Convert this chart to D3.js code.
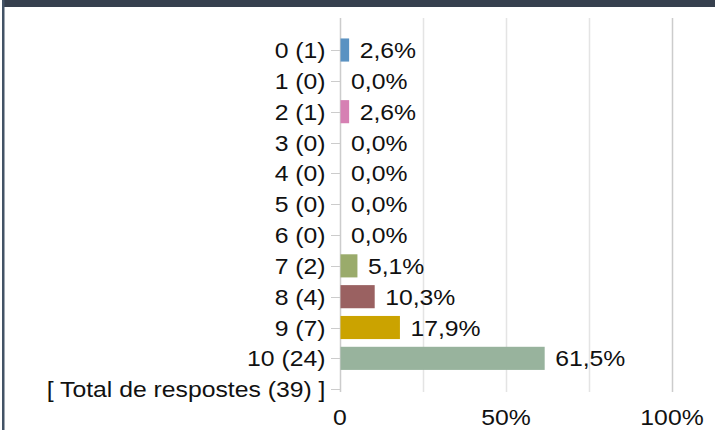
<!DOCTYPE html>
<html>
<head>
<meta charset="utf-8">
<script src="https://cdn.jsdelivr.net/npm/d3@7"></script>
<style>
  html, body { margin:0; padding:0; background:#fff; }
  text { font-family: "Liberation Sans", Arial, sans-serif; fill:#111; }
</style>
</head>
<body>
<div id="chart"></div>
<script>
  // answers
  var categories = ["0","1","2","3","4","5","6","7","8","9","10"];
  var counts     = [1, 0, 1, 0, 0, 0, 0, 2, 4, 7, 24];
  var percents   = [2.6, 0.0, 2.6, 0.0, 0.0, 0.0, 0.0, 5.1, 10.3, 17.9, 61.5];
  var colors     = ["#5a92c2","#5a92c2","#d680b3","#d680b3","#d680b3","#d680b3","#d680b3","#9aab6b","#9a6161","#cba300","#98b39d"];
  var totalLabel = "[ Total de respostes (39) ]";
  var xTicks     = [0, 50, 100];
  var xGrid      = [0, 25, 50, 75, 100];

  var W = 715, H = 430;
  var fontSize = 22.5, stretch = 1.1;   // the picture text looks wider than plain Arial

  var rows = categories.map(function(c,i){ return c + " (" + counts[i] + ")"; });
  rows.push(totalLabel);

  var svg = d3.select("#chart").append("svg")
    .attr("width", W).attr("height", H);

  // frame bits around the image
  svg.append("rect").attr("x",2).attr("y",0).attr("width",W-2).attr("height",7).attr("fill","#36404e");
  svg.append("rect").attr("x",2).attr("y",0).attr("width",2.5).attr("height",H).attr("fill","#435366");

  var x = d3.scaleLinear().domain([0,100]).range([340,672]);
  var y = d3.scaleBand().domain(rows).range([34.6,404.6]).paddingInner(0.25).paddingOuter(0.125);
  var mid = function(d){ return y(d) + y.bandwidth()/2; };

  // grid lines
  svg.selectAll("line.grid").data(xGrid).enter().append("line")
    .attr("class","grid")
    .attr("x1", function(d){ return Math.round(x(d)) + 0.5; })
    .attr("x2", function(d){ return Math.round(x(d)) + 0.5; })
    .attr("y1", 18).attr("y2", 392)
    .attr("stroke", function(d){ return d === 0 || d === 100 ? "#cccccc" : "#e4e4e4"; })
    .attr("stroke-width", 1.5);

  // y ticks
  svg.selectAll("line.ytick").data(rows).enter().append("line")
    .attr("class","ytick")
    .attr("x1", 331).attr("x2", 340)
    .attr("y1", function(d){ return Math.round(mid(d)) + 0.5; })
    .attr("y2", function(d){ return Math.round(mid(d)) + 0.5; })
    .attr("stroke","#cccccc");

  function stretchedText(sel, tx, ty, anchor){
    return sel.attr("transform", function(d,i){
        return "translate(" + tx(d,i) + "," + ty(d,i) + ") scale(" + stretch + ",1)";
      })
      .attr("text-anchor", anchor)
      .style("font-size", fontSize + "px");
  }

  // category labels
  stretchedText(svg.selectAll("text.cat").data(rows).enter().append("text").attr("class","cat")
      .text(function(d){ return d; }),
    function(){ return 325.5; },
    function(d){ return mid(d) + 8; }, "end");

  // bars
  svg.selectAll("rect.bar").data(percents).enter().append("rect")
    .attr("class","bar")
    .attr("x", x(0) + 0.5)
    .attr("y", function(d,i){ return y(rows[i]); })
    .attr("width", function(d){ return Math.max(0, x(d) - x(0)); })
    .attr("height", y.bandwidth())
    .attr("fill", function(d,i){ return colors[i]; });

  // value labels
  stretchedText(svg.selectAll("text.val").data(percents).enter().append("text").attr("class","val")
      .text(function(d){ return d.toFixed(1).replace(".", ",") + "%"; }),
    function(d){ return x(d) + 11; },
    function(d,i){ return mid(rows[i]) + 8; }, "start");

  // x axis labels
  stretchedText(svg.selectAll("text.xt").data(xTicks).enter().append("text").attr("class","xt")
      .text(function(d){ return d === 0 ? "0" : d + "%"; }),
    function(d){ return x(d); },
    function(){ return 424.5; }, "middle");
</script>
</body>
</html>
